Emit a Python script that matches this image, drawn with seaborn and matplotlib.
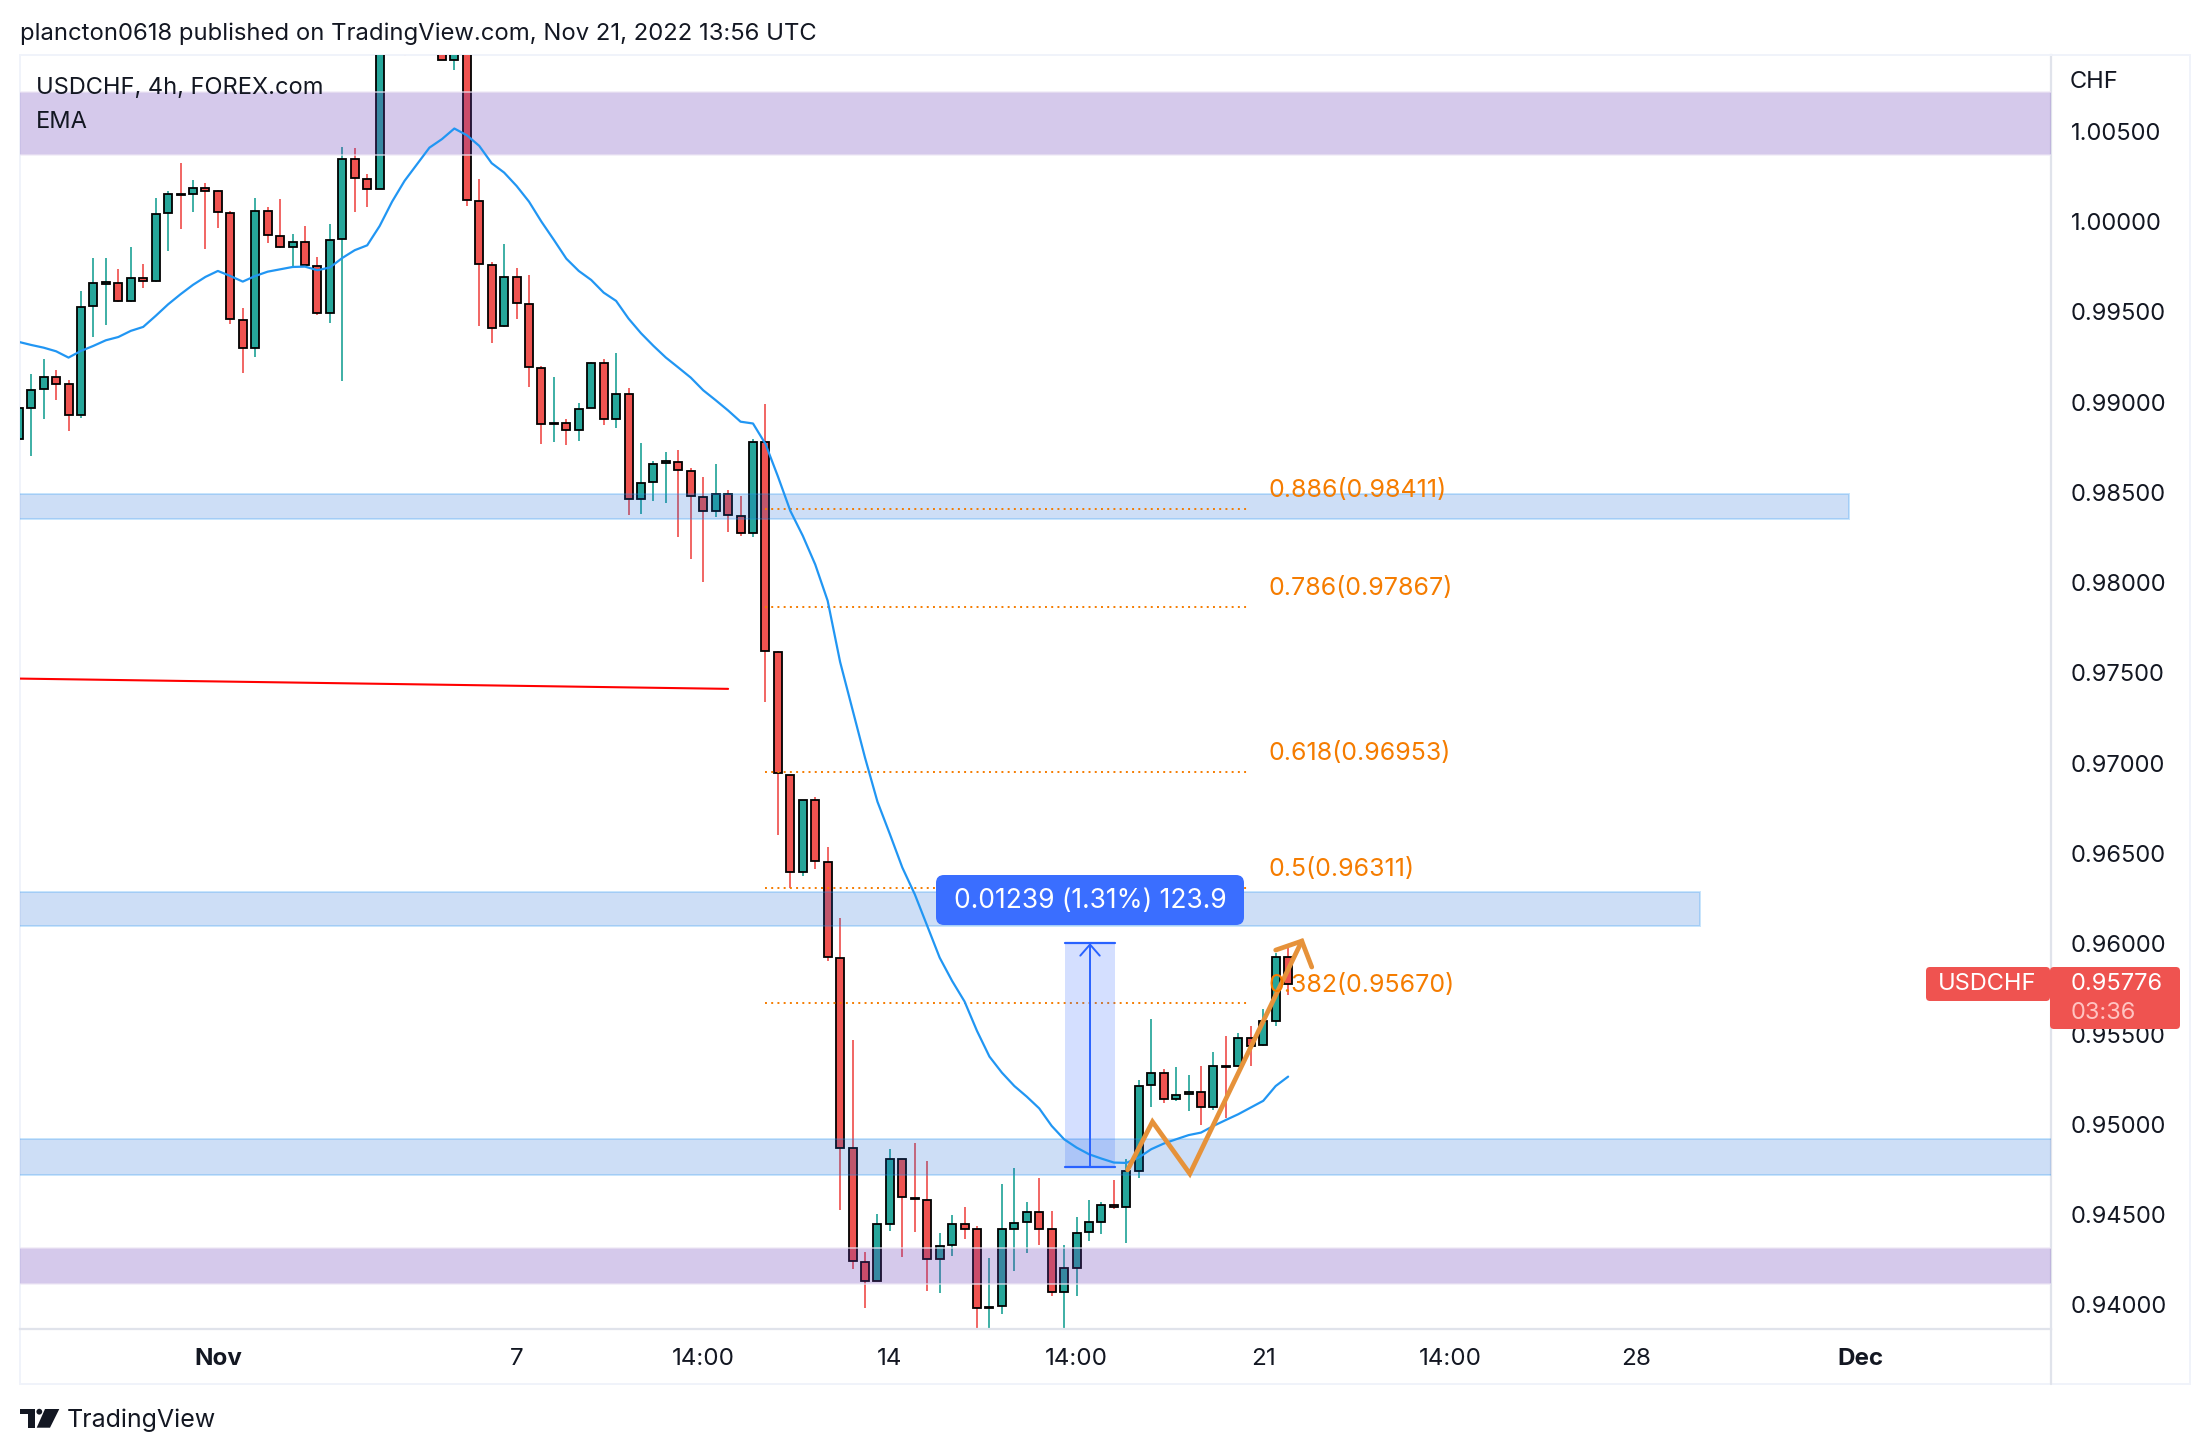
import numpy as np
import pandas as pd
import matplotlib
matplotlib.use("Agg")
import matplotlib.pyplot as plt
import matplotlib.transforms as mtrans
from matplotlib.patches import Rectangle, FancyBboxPatch, Circle, Polygon
import seaborn as sns

nan = float("nan")

opens = [.98794,.98970,.99072,.99140,.99101,.98928,.99531,.99657,.99661,.99559,
 .99688,.99674,1.00047,1.00154,1.00152,1.00187,1.00172,1.00048,.99456,.99299,
 1.00060,.99921,.99858,.99888,.99755,.99493,.99903,1.00348,1.00235,1.00180,
 nan,1.0110,nan,nan,1.0100,1.00894,1.0115,1.00115,.99760,.99421,
 .99694,.99542,.99190,.98878,.98883,.98844,.98966,.99216,.98905,.99044,
 .98462,.98559,.98665,.98670,.98619,.98477,.98398,.98491,.98371,.98277,
 .98780,.97614,.96935,.96395,.96798,.96454,.95922,.94869,.94236,.94134,
 .94450,.94808,.94592,.94581,.94251,.94330,.94448,.94421,.93981,.93992,
 .94422,.94458,.94515,.94421,.94073,.94206,.94402,.94461,.94554,.94544,
 .94741,.95216,.95284,.95138,.95166,.95179,.95094,.95325,.95323,.95478,
 .95437,.95574,.95927]
closes = [.98970,.99068,.99140,.99103,.98928,.99528,.99661,.99664,.99559,.99688,
 .99674,1.00043,1.00154,1.00150,1.00187,1.00172,1.00052,.99459,.99299,1.00060,
 .99925,.99858,.99888,.99759,.99493,.99899,1.00348,1.00241,1.00180,1.0115,
 nan,1.00950,nan,nan,1.00894,1.0100,1.00119,.99764,.99409,.99694,
 .99548,.99193,.98878,.98885,.98844,.98961,.99219,.98905,.99044,.98462,
 .98553,.98659,.98674,.98627,.98483,.98398,.98491,.98377,.98277,.98780,
 .97620,.96944,.96395,.96798,.96460,.95928,.94871,.94240,.94134,.94448,
 .94808,.94596,.94585,.94251,.94325,.94448,.94422,.93981,.93989,.94421,
 .94454,.94515,.94422,.94073,.94205,.94398,.94458,.94554,.94544,.94742,
 .95212,.95284,.95138,.95162,.95179,.95094,.95323,.95319,.95478,.95436,
 .95572,.95927,.95776]
highs = [.98970,.99158,.99241,.99177,.99121,.99616,.99801,.99801,.99736,.99862,
 .99764,1.00133,1.00172,1.00327,1.00229,1.00216,1.00174,1.00060,.99524,1.00133,
 1.00084,1.00124,.99930,.99975,.99807,.99986,1.00416,1.00410,1.00266,1.0125,
 nan,1.0115,nan,nan,1.0105,1.0103,1.0125,1.00235,.99779,.99879,
 .99742,.99703,.99201,.99142,.98909,.98993,.99225,.99241,.99275,.99081,
 .98773,.98674,.98723,.98737,.98638,.98585,.98657,.98513,.98479,.98795,
 .98988,.97624,.96935,.96798,.96812,.96537,.96145,.95469,.94290,.94502,
 .94862,.94808,.94899,.94796,.94400,.94500,.94544,.94437,.94262,.94668,
 .94760,.94572,.94705,.94517,.94334,.94489,.94578,.94572,.94690,.94807,
 .95243,.95581,.95304,.95315,.95271,.95321,.95399,.95487,.95504,.95543,
 .95640,.95947,.95982]
lows = [.98794,.98702,.98909,.99011,.98841,.98911,.99361,.99428,.99557,.99557,
 .99631,.99664,.99838,.99958,1.00054,.99847,.99964,.99432,.99160,.99251,
 .99880,.99856,.99755,.99759,.99483,.99437,.99118,1.00054,1.00082,1.00180,
 nan,1.00915,nan,nan,1.00894,1.00841,1.00087,.99422,.99328,.99419,
 .99459,.99085,.98767,.98780,.98763,.98785,.98966,.98874,.98857,.98373,
 .98383,.98455,.98441,.98254,.98133,.98002,.98362,.98279,.98258,.98254,
 .97338,.96600,.96310,.96378,.96412,.95903,.94524,.94197,.93981,.94134,
 .94408,.94266,.94404,.94077,.94066,.94269,.94363,.9385,.9385,.93948,
 .94188,.94286,.94332,.94049,.9385,.94049,.94352,.94391,.94530,.94341,
 .94700,.95096,.95118,.95129,.95074,.94994,.95079,.95033,.95319,.95323,
 .95436,.95544,.95714]
ema = [.99334,.99317,.99302,.99282,.99247,.99284,.99312,.99343,.99361,.99395,
 .99417,.99478,.99542,.99598,.99650,.99694,.99727,.99699,.99668,.99699,
 .99723,.99736,.99749,.99751,.99731,.99746,.99799,.99842,.99869,.99976,
 1.00111,1.00226,1.00318,1.00410,1.00457,1.00516,1.00479,1.00420,1.00324,1.00272,
 1.00198,1.00111,1.00000,.99899,.99795,.99727,.99677,.99607,.99561,.99463,
 .99382,.99312,.99247,.99192,.99136,.99066,.99011,.98954,.98892,.98882,
 .98769,.98589,.98398,.98260,.98101,.97900,.97561,.97296,.97031,.96787,
 .96607,.96422,.96274,.96099,.95923,.95794,.95680,.95517,.95375,.95286,
 .95212,.95153,.95088,.94991,.94917,.94871,.94834,.94810,.94788,.94786,
 .94816,.94862,.94893,.94917,.94940,.94954,.94991,.95024,.95056,.95093,
 .95130,.95212,.95264]

y_ticks = [.94,.945,.95,.955,.96,.965,.97,.975,.98,.985,.99,.995,1.0,1.005]
x_tick_pos = [16,40,55,70,85,100,115,130,148]
x_tick_lab = ["Nov","7","14:00","14","14:00","21","14:00","28","Dec"]
x_tick_bold = ["Nov","Dec"]

purple_bands = [(1.00372,1.00721),(.94118,.94317)]
blue_bands = [(.98352,.98492,147.1),(.96098,.96289,135.1),(.94719,.94917,None)]
fib_levels = [.98411,.97867,.96953,.96311,.95670]
fib_labels = ["0.886(0.98411)","0.786(0.97867)","0.618(0.96953)","0.5(0.96311)","0.382(0.95670)"]
fib_start, fib_stop, fib_text_x = 60, 98.9, 100.4

red_x, red_y = [0, 57], [.97469, .97412]
zig_x, zig_y = [89.1,91.1,94.1,103.1], [.94747,.95014,.94726,.96015]
head_x, head_y = [101.0,103.1,103.9], [.95965,.96015,.95871]
meas_x0, meas_x1, meas_lo, meas_hi = 84.07, 88.09, .94765, .96004

GREEN, RED, BLUE = "#26A69A", "#EF5350", "#2196F3"
INK = "#131722"; ORANGE = "#F57C00"; TOOL = "#2962FF"; ZIG = "#E6923A"
W, H = 2210, 1454
L, R, T, B = 20, 2051, 54.5, 1329

sns.set_style("white")
plt.rcParams["font.family"] = ["Inter", "DejaVu Sans"]
FS = 17.0

fig = plt.figure(figsize=(W/100, H/100), dpi=100, facecolor="white")
ax = fig.add_axes([L/W, 1-B/H, (R-L)/W, (B-T)/H])
px = mtrans.Affine2D().scale(1, -1).translate(0, H)

idx = np.arange(len(opens))
O, C, Hi, Lo = map(np.array, (opens, closes, highs, lows))
up = C >= O
colors = np.where(up, GREEN, RED)
ok = ~np.isnan(O)
ax.vlines(idx[ok], Lo[ok], Hi[ok], colors=colors[ok], lw=1.25, zorder=2)
ax.bar(idx[ok], np.abs(C-O)[ok], bottom=np.minimum(O, C)[ok], width=0.64,
       color=colors[ok], edgecolor="black", linewidth=1.3, zorder=3)

ax.set_xlim(0.1, 163.3)
ax.set_ylim(.93866, 1.00926)

for lo, hi in purple_bands:
    ax.add_patch(Rectangle((-5, lo), 180, hi-lo, facecolor=(103/255,58/255,183/255,.27),
                           edgecolor=(.93,.9,.96,.7), lw=1.2, zorder=4))
for lo, hi, end in blue_bands:
    ax.add_patch(Rectangle((-5, lo), (end if end else 175)+5, hi-lo, facecolor=(21/255,101/255,216/255,.21),
                           edgecolor=(33/255,150/255,243/255,.25), lw=1.4, zorder=4))

plot_df = pd.DataFrame({"bar": idx, "ema": ema})
sns.lineplot(data=plot_df, x="bar", y="ema", ax=ax, color=BLUE, lw=1.6, estimator=None, sort=False, zorder=6)
ax.plot(red_x, red_y, color="#FF0000", lw=1.5, zorder=6)

for lev, lab in zip(fib_levels, fib_labels):
    ax.plot([fib_start, fib_stop], [lev, lev], color=ORANGE, lw=1.4, ls=(0, (1, 2.2)), zorder=5)
    ax.annotate(lab, xy=(fib_text_x, lev), xytext=(0, 13.0), textcoords="offset points",
                color=ORANGE, fontsize=17.95, va="center", ha="left", zorder=9)

ax.add_patch(Rectangle((meas_x0, meas_lo), meas_x1-meas_x0, meas_hi-meas_lo,
                       facecolor=(41/255,98/255,1,.2), edgecolor="none", zorder=5))
ax.plot([meas_x0, meas_x1], [meas_lo, meas_lo], color=TOOL, lw=1.6, zorder=6)
ax.plot([meas_x0, meas_x1], [meas_hi, meas_hi], color=TOOL, lw=1.6, zorder=6)
mid = (meas_x0+meas_x1)/2
ax.annotate("", xy=(mid, meas_hi), xytext=(mid, meas_lo),
            arrowprops=dict(arrowstyle="->,head_length=0.8,head_width=0.7", color=TOOL, lw=1.4,
                            shrinkA=0, shrinkB=0), zorder=6)

ax.plot(zig_x, zig_y, color=ZIG, lw=3.4, solid_joinstyle="miter", zorder=7)
ax.plot(head_x, head_y, color=ZIG, lw=3.4, solid_joinstyle="miter", zorder=7)

ax.set_xlabel(""); ax.set_ylabel("")
ax.yaxis.tick_right()
ax.set_yticks(y_ticks)
ax.set_yticklabels([f"{v:.5f}" for v in y_ticks], color=INK, fontsize=FS)
ax.tick_params(axis="y", length=0, pad=14.0)
ax.set_xticks(x_tick_pos)
ax.set_xticklabels(x_tick_lab, color=INK, fontsize=17.4)
for t in ax.get_xticklabels():
    if t.get_text() in x_tick_bold:
        t.set_fontweight("bold")
ax.tick_params(axis="x", length=0, pad=14)
for s, c, w in (("top","#F0F3FA",1.4),("left","#F0F3FA",1.4),("right","#E0E3EB",1.6),("bottom","#E0E3EB",1.6)):
    ax.spines[s].set_color(c); ax.spines[s].set_linewidth(w); ax.spines[s].set_visible(True)
ax.grid(False)

# frame of the scale and time areas
fig.add_artist(Rectangle((L, T), 2190-L, 1384-T, transform=px, fill=False, edgecolor="#F0F3FA", lw=1.4, zorder=0))
fig.add_artist(plt.Line2D([R, R], [B, 1384], transform=px, color="#E0E3EB", lw=1.6))

# texts over the chart
fig.text(20, 33.5, "plancton0618 published on TradingView.com, Nov 21, 2022 13:56 UTC", transform=px,
         color=INK, fontsize=17.18, va="center", ha="left")
fig.text(36, 87.5, "USDCHF, 4h, FOREX.com", transform=px, color=INK, fontsize=FS, va="center", ha="left", zorder=10)
fig.text(36, 121.5, "EMA", transform=px, color=INK, fontsize=FS, va="center", ha="left", zorder=10)
fig.text(2070, 82.5, "CHF", transform=px, color=INK, fontsize=FS, va="center", ha="left")

# measure label
fig.add_artist(FancyBboxPatch((942, 881), 296, 38, boxstyle="round,pad=6,rounding_size=8", transform=px,
                              facecolor="#3A6EFF", edgecolor="none", zorder=8))
fig.text(954, 901, "0.01239 (1.31%) 123.9", transform=px, color="white", fontsize=19.0, va="center", ha="left", zorder=9)

# price tags
fig.add_artist(FancyBboxPatch((1930, 971), 116, 26, boxstyle="round,pad=4,rounding_size=4", transform=px,
                              facecolor=RED, edgecolor="none", zorder=8))
fig.add_artist(FancyBboxPatch((2054, 971), 122, 54, boxstyle="round,pad=4,rounding_size=4", transform=px,
                              facecolor=RED, edgecolor="none", zorder=8))
fig.text(1938, 984, "USDCHF", transform=px, color="white", fontsize=FS, va="center", ha="left", zorder=9)
fig.text(2071, 984, "0.95776", transform=px, color="white", fontsize=FS, va="center", ha="left", zorder=9)
fig.text(2071, 1013, "03:36", transform=px, color="#FFC4C2", fontsize=FS, va="center", ha="left", zorder=9)

# logo and wordmark
for poly in ([(20,1409),(35.3,1409),(35.3,1427.7),(28.3,1427.7),(28.3,1414.3),(20,1414.3)],
             [(45,1409),(59.3,1409),(50,1427.7),(36.7,1427.7)]):
    fig.add_artist(Polygon(poly, closed=True, transform=px, facecolor=INK, edgecolor="none"))
fig.add_artist(Circle((39.3, 1411.7), 2.9, transform=px, facecolor=INK, edgecolor="none"))
fig.text(67, 1420, "TradingView", transform=px, color=INK, fontsize=18, va="center", ha="left")

fig.savefig("out.png", dpi=100, facecolor="white")
